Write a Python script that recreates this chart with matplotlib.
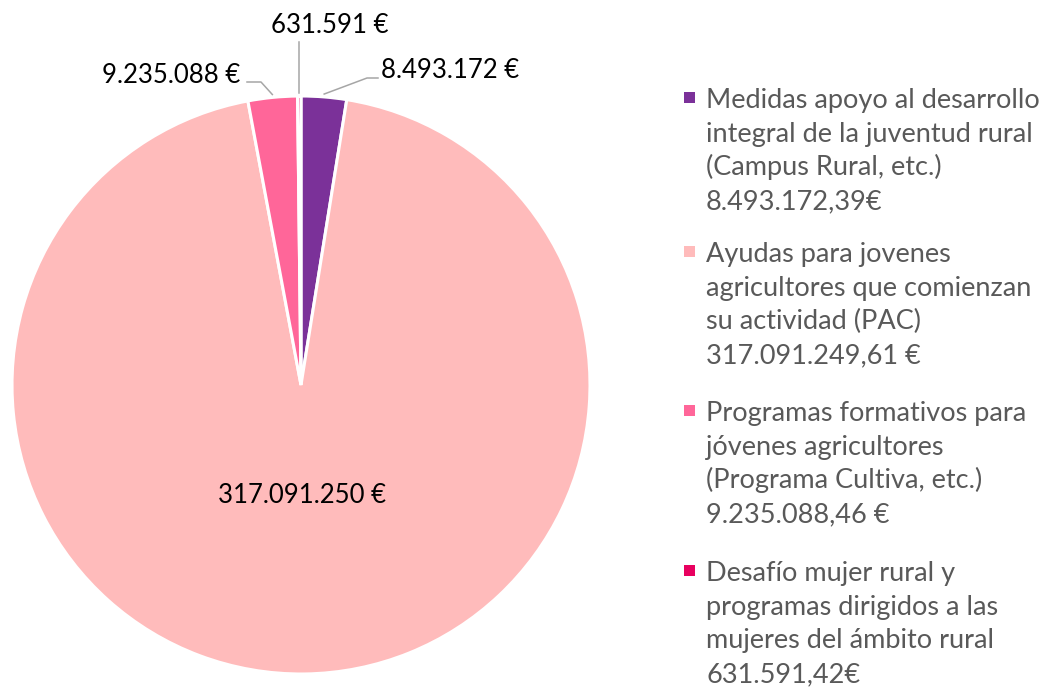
import numpy as np
import matplotlib.pyplot as plt

plt.rcParams['font.family'] = ['Lato', 'DejaVu Sans']

# datos
categorias = [
    ["Medidas apoyo al desarrollo", "integral de la juventud rural", "(Campus Rural, etc.)", "8.493.172,39€"],
    ["Ayudas para jovenes", "agricultores que comienzan", "su actividad (PAC)", "317.091.249,61 €"],
    ["Programas formativos para", "jóvenes agricultores", "(Programa Cultiva, etc.)", "9.235.088,46 €"],
    ["Desafío mujer rural y", "programas dirigidos a las", "mujeres del ámbito rural", "631.591,42€"],
]
valores = [8493172.39, 317091249.61, 9235088.46, 631591.42]
etiquetas = ["8.493.172 €", "317.091.250 €", "9.235.088 €", "631.591 €"]
colores = ["#7B3199", "#FFBBBB", "#FF6699", "#E8005F"]

W, H = 1048, 690
fig = plt.figure(figsize=(W / 100, H / 100), dpi=100)

cx, cy, r = 301, 385, 289
ax = fig.add_axes([(cx - r) / W, (H - cy - r) / H, 2 * r / W, 2 * r / H])
wedges, _ = ax.pie(valores, colors=colores, startangle=90, counterclock=False,
                   radius=1, wedgeprops=dict(edgecolor='white', linewidth=2.2))
ax.set_xlim(-1, 1)
ax.set_ylim(-1, 1)
ax.set_aspect('equal')
ax.axis('off')

def px(x, y):
    # pixel coords (from top-left) -> data coords of the pie axes
    return (x - cx) / r, (cy - y) / r

def mid(w):
    a = np.deg2rad((w.theta1 + w.theta2) / 2)
    return np.cos(a), np.sin(a)

lc = '#A6A6A6'
fs = 18.5

# etiqueta del sector grande
ax.text(*px(302, 503), etiquetas[1], ha='center', va='baseline', fontsize=fs, color='black')

# morado
mx, my = mid(wedges[0])
e1 = px(367, 78); e2 = px(378, 78)
ax.plot([mx * 1.01, e1[0], e2[0]], [my * 1.01, e1[1], e2[1]], color=lc, lw=1.1, clip_on=False)
ax.text(*px(381, 78), etiquetas[0], ha='left', va='baseline', fontsize=fs, color='black')

# rosa
mx, my = mid(wedges[2])
e1 = px(261, 82); e2 = px(247, 82)
ax.plot([mx * 1.01, e1[0], e2[0]], [my * 1.01, e1[1], e2[1]], color=lc, lw=1.1, clip_on=False)
ax.text(*px(240, 83), etiquetas[2], ha='right', va='baseline', fontsize=fs, color='black')

# magenta
mx, my = mid(wedges[3])
e1 = px(300, 42)
ax.plot([mx * 1.01, mx * 1.01], [my * 1.01, e1[1]], color=lc, lw=1.1, clip_on=False)
ax.text(*px(330, 33), etiquetas[3], ha='center', va='baseline', fontsize=fs, color='black')

# leyenda
bases = [108, 262, 421, 581]
for lineas, col, b in zip(categorias, colores, bases):
    fig.patches.append(plt.Rectangle((684 / W, 1 - (b - 5) / H), 11 / W, 11 / H,
                                     transform=fig.transFigure, facecolor=col, edgecolor='none'))
    for k, txt in enumerate(lineas):
        fig.text(706 / W, 1 - (b + 33.7 * k) / H, txt, ha='left', va='baseline',
                 fontsize=19.5, color='#595959')

fig.savefig('out.png', dpi=100)
